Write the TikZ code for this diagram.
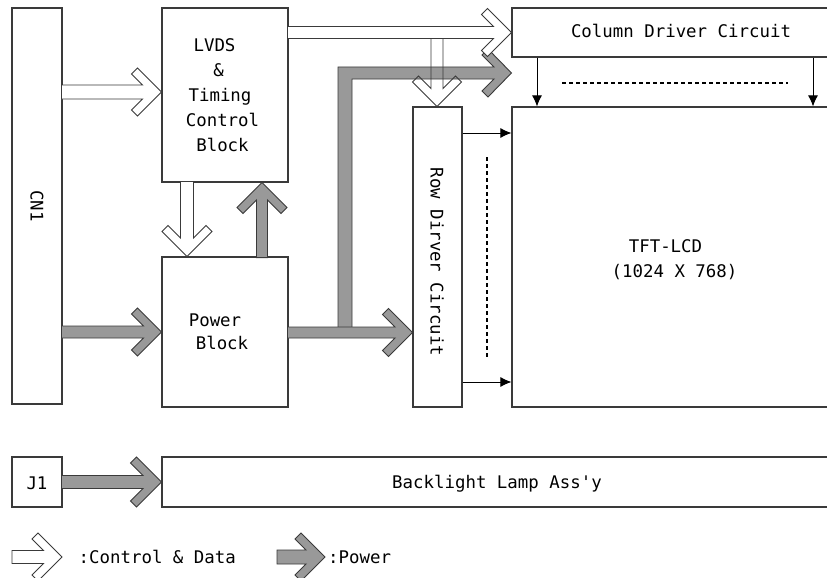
\documentclass[tikz,border=0pt]{standalone}
\usepackage{fontspec}
\setmonofont{DejaVu Sans Mono}
\usetikzlibrary{arrows.meta,calc}
\definecolor{linec}{HTML}{3A3A3A}
\definecolor{powerc}{HTML}{999999}
\tikzset{
 box/.style={draw=linec, line width=1.1pt, fill=white, inner sep=0pt},
 txt/.style={font=\ttfamily\fontsize{17.4}{25}\selectfont, inner sep=0pt, text=black},
 ctrl/.style={draw=linec, line width=0.9pt, fill=white},
 ctrlopen/.style={draw=linec, line width=0.9pt},
 pwr/.style={draw=linec, line width=0.9pt, fill=powerc},
 thinarr/.style={draw=black, line width=1pt, -{Latex[length=11pt,width=10pt]}},
 dashln/.style={draw=black, line width=1.3pt, dash pattern=on 4pt off 3pt},
}
% #1 style, #2 tip, #3 angle, #4 length, #5 shaft half width, #6 head half size
\newcommand\blockarrow[6]{%
 \begin{scope}[shift={#2}, rotate=#3]
 \path[#1] (-#4,#5) -- ({-#5-12},#5) -- ({-#6-6},{#6-6}) -- (-#6,#6) -- (0,0)
   -- (-#6,-#6) -- ({-#6-6},{-#6+6}) -- ({-#5-12},-#5) -- (-#4,-#5) -- cycle;
 \end{scope}}
\begin{document}
\begin{tikzpicture}[x=1pt,y=-1pt]
\useasboundingbox (0,0) rectangle (827,578);
\clip (0,0) rectangle (827,578);
\fill[white] (0,0) rectangle (827,578);
% boxes
\node[box, minimum width=50, minimum height=396] (cn1) at (37,206) {};
\node[box, minimum width=126, minimum height=174] (lvds) at (225,95) {};
\node[box, minimum width=126, minimum height=150] (pwr) at (225,332) {};
\node[box, minimum width=338, minimum height=49] (col) at (681,32.5) {};
\node[box, minimum width=49, minimum height=300] (row) at (437.5,257) {};
\node[box, minimum width=338, minimum height=300] (tft) at (681,257) {};
\node[box, minimum width=50, minimum height=50] (j1) at (37,482) {};
\node[box, minimum width=688, minimum height=50] (bl) at (506,482) {};
% block arrows
\blockarrow{ctrl}{(lvds.west |- 0,92)}{0}{100}{7}{24}
\blockarrow{pwr}{(pwr.west |- 0,332)}{0}{100}{6}{24}
\blockarrow{ctrl}{(pwr.north -| 187,0)}{-90}{75}{6.5}{25}
\blockarrow{pwr}{(lvds.south -| 262,0)}{90}{75}{5.5}{25}
\path[pwr] (338,333) -- (338,67) -- (494,67) -- (482,55) -- (488,49) -- (col.west |- 0,73)
  -- (488,97) -- (482,91) -- (494,79) -- (352,79) -- (352,333) -- cycle;
\blockarrow{pwr}{(row.west |- 0,332.5)}{0}{125}{5.5}{24}
\blockarrow{ctrlopen}{(row.north -| 437,0)}{-90}{68.5}{6}{24.5}
\blockarrow{ctrl}{(col.west |- 0,32.5)}{0}{224}{6}{24}
\blockarrow{pwr}{(bl.west |- 0,482)}{0}{100}{6.5}{25}
% thin arrows
\draw[thinarr] (col.south -| 537,0) -- (tft.north -| 537,0);
\draw[thinarr] (col.south -| 813,0) -- (tft.north -| 813,0);
\draw[thinarr] (row.east |- 0,133) -- (tft.west |- 0,133);
\draw[thinarr] (row.east |- 0,382) -- (tft.west |- 0,382);
\draw[dashln] (562,83) -- (788,83);
\draw[dashln] (487,157) -- (487,357);
% legend
\blockarrow{ctrl}{(62,557)}{0}{50}{6.5}{24}
\blockarrow{pwr}{(325,557)}{0}{48}{7}{24}
% texts
\node[txt, rotate=-90] (cn1t) at (cn1) {CN1};
\node[txt, align=center] (lvdst) at (222.5,95) {LVDS\kern16pt\\\&\kern8pt\\Timing\kern5pt\\Control\\Block};
\node[txt, align=center, font=\ttfamily\fontsize{17.4}{23}\selectfont] (pwrt) at (222,332) {Power\kern14pt\\Block};
\node[txt, anchor=base] (colt) at (681,38) {Column Driver Circuit};
\node[txt, rotate=-90] (rowt) at (437,262) {Row Dirver Circuit};
\node[txt, anchor=base] (tftt) at (665.5,252) {TFT-LCD};
\node[txt, anchor=base] (tftr) at (674.5,277) {(1024 X 768)};
\node[txt, anchor=base] (blt) at (497,488) {Backlight Lamp Ass'y};
\node[txt, anchor=base] (j1t) at (37,489) {J1};
\node[txt, anchor=base west] (leg1) at (78.5,563) {:Control \& Data};
\node[txt, anchor=base west] (leg2) at (328,563) {:Power};
\end{tikzpicture}
\end{document}
